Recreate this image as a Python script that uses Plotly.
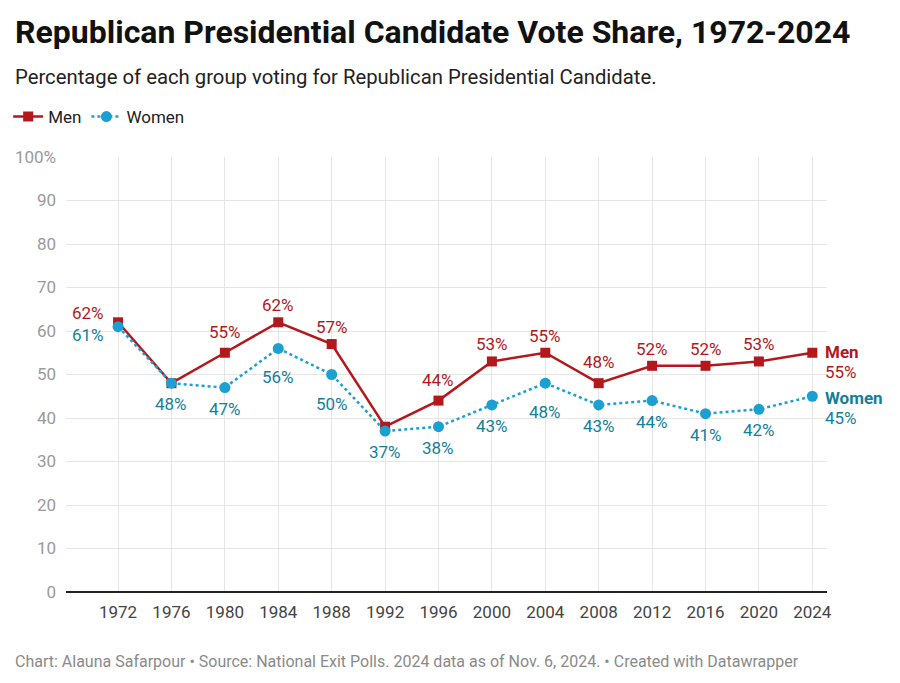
import plotly.graph_objects as go

# Data
years = [1972, 1976, 1980, 1984, 1988, 1992, 1996, 2000, 2004, 2008, 2012, 2016, 2020, 2024]
men = [62, 48, 55, 62, 57, 38, 44, 53, 55, 48, 52, 52, 53, 55]
women = [61, 48, 47, 56, 50, 37, 38, 43, 48, 43, 44, 41, 42, 45]
y_ticks = [0, 10, 20, 30, 40, 50, 60, 70, 80, 90, 100]
y_labels = ["0", "10", "20", "30", "40", "50", "60", "70", "80", "90", "100%"]

MEN_C = "#b3181c"
WOMEN_C = "#1ba0d2"
WOMEN_TXT = "#137f9c"
FONT = "Roboto"
LBL = 17

fig = go.Figure()
fig.add_trace(go.Scatter(x=years, y=men, name="Men", mode="lines+markers",
                         line=dict(color=MEN_C, width=2.5),
                         marker=dict(symbol="square", size=10, color=MEN_C)))
fig.add_trace(go.Scatter(x=years, y=women, name="Women", mode="lines+markers",
                         line=dict(color=WOMEN_C, width=2.5, dash="dot"),
                         marker=dict(symbol="circle", size=11, color=WOMEN_C)))

ann = []
last = len(years) - 1
# men labels above points (skipped where they overlap the women's);
# pushed a bit higher where the line climbs steeply to the right
for i, (yr, v) in enumerate(zip(years, men)):
    if i in (1, 5, last):
        continue
    font = dict(color=MEN_C, size=LBL, family=FONT)
    if i == 0:
        ann.append(dict(x=yr, y=v, text=f"{v}%", showarrow=False, xshift=-30, yshift=9, font=font))
    else:
        up = 21 if men[i + 1] - v >= 4 else 17
        ann.append(dict(x=yr, y=v, text=f"{v}%", showarrow=False, yshift=up, font=font))
# women labels below points; lower where the line drops steeply to the right
for i, (yr, v) in enumerate(zip(years, women)):
    if i == last:
        continue
    font = dict(color=WOMEN_TXT, size=LBL, family=FONT)
    if i == 0:
        ann.append(dict(x=yr, y=v, text=f"{v}%", showarrow=False, xshift=-30, yshift=-8, font=font))
    else:
        down = 29 if v - women[i + 1] >= 4 else 21
        ann.append(dict(x=yr, y=v, text=f"{v}%", showarrow=False, yshift=-down, font=font))

# end-of-line labels
ann += [
    dict(x=years[last], y=men[last], text="<b>Men</b>", showarrow=False, xanchor="left",
         xshift=11, yshift=1, font=dict(color=MEN_C, size=LBL, family=FONT)),
    dict(x=years[last], y=men[last], text=f"{men[last]}%", showarrow=False, xanchor="left",
         xshift=11, yshift=-19, font=dict(color=MEN_C, size=LBL, family=FONT)),
    dict(x=years[last], y=women[last], text="<b>Women</b>", showarrow=False, xanchor="left",
         xshift=11, yshift=-2, font=dict(color=WOMEN_TXT, size=LBL, family=FONT)),
    dict(x=years[last], y=women[last], text=f"{women[last]}%", showarrow=False, xanchor="left",
         xshift=11, yshift=-22, font=dict(color=WOMEN_TXT, size=LBL, family=FONT)),
]

# title, subtitle, footer
ann += [
    dict(xref="paper", yref="paper", x=-0.0695, y=1.287, xanchor="left", yanchor="middle",
         text="<b>Republican Presidential Candidate Vote Share, 1972-2024</b>", showarrow=False,
         font=dict(size=32, color="#111", family=FONT)),
    dict(xref="paper", yref="paper", x=-0.0695, y=1.184, xanchor="left", yanchor="middle",
         text="Percentage of each group voting for Republican Presidential Candidate.",
         showarrow=False, font=dict(size=20.3, color="#222", family=FONT)),
    dict(xref="paper", yref="paper", x=-0.0695, y=-0.159, xanchor="left", yanchor="middle",
         text="Chart: Alauna Safarpour • Source: National Exit Polls. 2024 data as of Nov. 6, 2024. • Created with Datawrapper",
         showarrow=False, font=dict(size=16, color="#8a8a8a", family=FONT)),
]

# the page body adds an 8px margin, so the figure is drawn 8px smaller and offset
fig.update_layout(
    width=892, height=675,
    margin=dict(l=58, r=73, t=149, b=91, autoexpand=False),
    paper_bgcolor="white", plot_bgcolor="white",
    font=dict(family=FONT),
    showlegend=True,
    legend=dict(orientation="h", x=-0.076, y=1.092, xanchor="left", yanchor="middle",
                font=dict(size=17, color="#222"), itemwidth=30, tracegroupgap=0),
    annotations=ann,
    xaxis=dict(range=[1968.1, 2025.1], tickvals=years, showgrid=True, gridcolor="#e5e5e5",
               gridwidth=1, zeroline=False, showline=False, ticks="", ticklabelstandoff=8,
               tickfont=dict(size=17, color="#444")),
    yaxis=dict(range=[0, 100], tickvals=y_ticks, ticktext=y_labels, showgrid=True,
               gridcolor="#e5e5e5", zeroline=True, zerolinecolor="#222", zerolinewidth=1.5,
               ticks="", ticklabelstandoff=9, tickfont=dict(size=17, color="#9a9a9a")),
)

fig.write_html("out.html")
